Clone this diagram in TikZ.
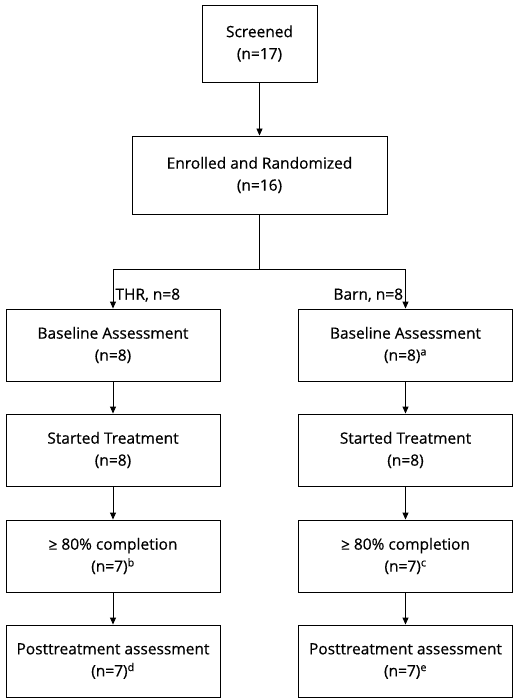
\documentclass[tikz,border=0pt]{standalone}
\usepackage{fontspec}
\setmainfont{Open Sans}[FakeBold=0.5]
\usetikzlibrary{arrows.meta}
\tikzset{
  box/.style={draw, rectangle, align=center, line width=0.9pt, inner sep=2pt,
    font=\fontsize{15.5}{22}\selectfont},
  colbox/.style={box, minimum width=214pt, minimum height=72pt},
  lbl/.style={font=\fontsize{15.5}{22}\selectfont, inner sep=2pt}
}
\begin{document}
\begin{tikzpicture}[x=1pt, y=-1pt, >={Triangle[length=7pt,width=6pt]}, line width=0.9pt]
\useasboundingbox (0,0) rectangle (517,700);
\node[box, minimum width=115pt, minimum height=77pt] (screen) at (259.5,43.5) {Screened\\(n=17)};
\node[box, minimum width=255pt, minimum height=78pt] (enrol) at (259.5,175) {Enrolled and Randomized\\(n=16)};
\coordinate (split) at (259.5,269);
% THR arm
\node[colbox] (thrbase) at (113,345) {Baseline Assessment\\(n=8)};
\node[colbox] (thrstart) at (113,450) {Started Treatment\\(n=8)};
\node[colbox] (thrdone) at (113,556) {≥ 80\% completion\\(n=7)\textsuperscript{b}};
\node[colbox] (thrpost) at (113,661) {Posttreatment assessment\\(n=7)\textsuperscript{d}};
% Barn arm
\node[colbox] (barnbase) at (405.5,345) {Baseline Assessment\\(n=8)\textsuperscript{a}};
\node[colbox] (barnstart) at (405.5,450) {Started Treatment\\(n=8)};
\node[colbox] (barndone) at (405.5,556) {≥ 80\% completion\\(n=7)\textsuperscript{c}};
\node[colbox] (barnpost) at (405.5,661) {Posttreatment assessment\\(n=7)\textsuperscript{e}};
\draw[->] (screen) -- (enrol);
\draw (enrol) -- (split);
\draw[->] (split) -| node[lbl, pos=0.83, anchor=west] {THR, n=8} (thrbase);
\draw[->] (split) -| node[lbl, pos=0.83, anchor=east] {Barn, n=8} (barnbase);
\draw[->] (thrbase) -- (thrstart);
\draw[->] (thrstart) -- (thrdone);
\draw[->] (thrdone) -- (thrpost);
\draw[->] (barnbase) -- (barnstart);
\draw[->] (barnstart) -- (barndone);
\draw[->] (barndone) -- (barnpost);
\end{tikzpicture}
\end{document}
